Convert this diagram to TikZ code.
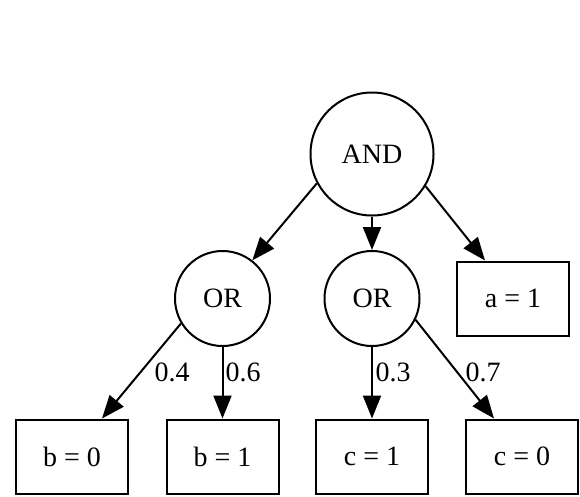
\documentclass[tikz,border=0pt]{standalone}
\usepackage{fontspec}
\setmainfont{Liberation Serif}
\usetikzlibrary{arrows.meta}
\begin{document}
\begin{tikzpicture}[x=1pt,y=-1pt,
  every node/.style={font=\fontsize{28}{33}\selectfont},
  gate/.style={draw,circle,line width=2pt,inner sep=0pt},
  leaf/.style={draw,rectangle,line width=2pt,minimum width=112pt,minimum height=74pt,inner sep=0pt},
  conn/.style={line width=2pt,-{Triangle[length=23pt,width=18pt]}},
  elabel/.style={inner sep=0pt}]
\useasboundingbox (0,0) rectangle (580,496);
\node[gate,minimum size=123pt] (and) at (372,154) {AND};
\node[gate,minimum size=95pt] (orl) at (222.5,298.5) {OR};
\node[gate,minimum size=95pt] (orr) at (372,298.5) {OR};
\node[leaf] (a1) at (513,298.5) {a = 1};
\node[leaf] (b0) at (72,456.5) {b = 0};
\node[leaf] (b1) at (222.5,456.5) {b = 1};
\node[leaf] (c1) at (372,456.5) {c = 1};
\node[leaf] (c0) at (522,456.5) {c = 0};
\draw[conn] (and.208) -- (orl.52);
\draw[conn] (and.south) -- (orr.north);
\draw[conn] (and.-31) -- ([xshift=-28pt]a1.north);
\draw[conn] (orl.211) -- ([xshift=30pt]b0.north);
\draw[conn] (orl.south) -- (b1.north);
\draw[conn] (orr.south) -- (c1.north);
\draw[conn] (orr.-26) -- ([xshift=-28pt]c0.north);
\node[elabel] (l04) at (172,372) {0.4};
\node[elabel] (l06) at (243,372) {0.6};
\node[elabel] (l03) at (393,372) {0.3};
\node[elabel] (l07) at (483,372) {0.7};
\end{tikzpicture}
\end{document}
